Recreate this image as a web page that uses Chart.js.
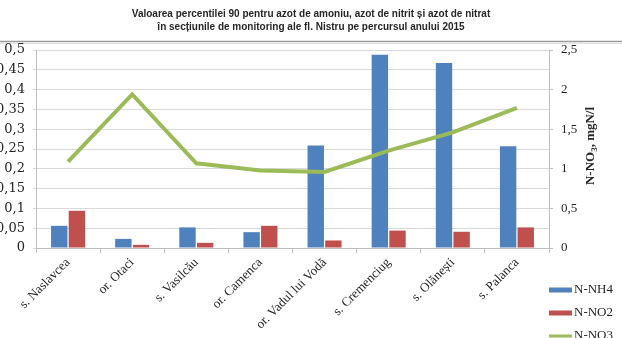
<!DOCTYPE html>
<html>
<head>
<meta charset="utf-8">
<script src="https://cdn.jsdelivr.net/npm/chart.js@4"></script>
<style>
  html, body { margin: 0; padding: 0; background: #ffffff; }
  #wrap { position: relative; width: 622px; height: 338px; overflow: hidden; }
</style>
</head>
<body>
<div id="wrap"><canvas id="c" width="622" height="338"></canvas></div>
<script>
// ---- data ----
const titleLines = [
  "Valoarea percentilei 90 pentru azot de amoniu, azot de nitrit și azot de nitrat",
  "în secțiunile de monitoring ale fl. Nistru pe percursul anului 2015"
];
const categories = ["s. Naslavcea", "or. Otaci", "s. Vasilcău", "or. Camenca",
  "or. Vadul lui Vodă", "s. Cremenciug", "s. Olănești", "s. Palanca"];
const seriesNames = ["N-NH4", "N-NO2", "N-NO3"];
const nh4 = [0.056, 0.023, 0.052, 0.040, 0.259, 0.488, 0.467, 0.257];
const no2 = [0.094, 0.008, 0.013, 0.056, 0.019, 0.044, 0.041, 0.052];
const no3 = [1.09, 1.94, 1.07, 0.98, 0.96, 1.23, 1.46, 1.77];
const leftTickLabels = ["0", "0,05", "0,1", "0,15", "0,2", "0,25", "0,3", "0,35", "0,4", "0,45", "0,5"];
const rightTickLabels = ["0", "0,5", "1", "1,5", "2", "2,5"];
const rightAxisTitle = [["N-NO", false], ["3", true], [", mgN/l", false]];

const serif = '"Liberation Serif", "Times New Roman", serif';
const colors = { nh4: '#4f81bd', no2: '#c0504d', no3: '#9bbb59' };

const extras = {
  id: 'extras',
  beforeDraw(chart) {
    const ctx = chart.ctx;
    ctx.save();
    ctx.strokeStyle = '#9a9a9a';
    ctx.lineWidth = 1.5;
    ctx.beginPath(); ctx.moveTo(0, 41.5); ctx.lineTo(622, 41.5); ctx.stroke();
    ctx.strokeStyle = '#e4e4e4';
    ctx.lineWidth = 1;
    ctx.beginPath(); ctx.moveTo(0, 43.5); ctx.lineTo(622, 43.5); ctx.stroke();
    ctx.restore();
  },
  afterDraw(chart) {
    const ctx = chart.ctx;
    // right axis title, reading bottom to top
    ctx.save();
    ctx.translate(591, 146);
    ctx.rotate(-Math.PI / 2);
    ctx.fillStyle = '#262626';
    ctx.textBaseline = 'middle';
    ctx.textAlign = 'left';
    let total = 0;
    const widths = rightAxisTitle.map(([t, sub]) => {
      ctx.font = 'bold ' + (sub ? 9 : 13) + 'px ' + serif;
      const w = ctx.measureText(t).width; total += w; return w;
    });
    let x = -total / 2;
    rightAxisTitle.forEach(([t, sub], i) => {
      ctx.font = 'bold ' + (sub ? 9 : 13) + 'px ' + serif;
      ctx.fillText(t, x, sub ? 4 : 0);
      x += widths[i];
    });
    ctx.restore();
    // legend, in series order
    ctx.save();
    seriesNames.forEach((name, i) => {
      const ds = chart.data.datasets.find(d => d.label === name);
      const y = 290 + i * 23;
      ctx.fillStyle = ds.type === 'line' ? ds.borderColor : ds.backgroundColor;
      const h = ds.type === 'line' ? 3 : 5;
      ctx.fillRect(549, y - h / 2, 23, h);
      ctx.fillStyle = '#262626';
      ctx.font = '13px ' + serif;
      ctx.textBaseline = 'middle';
      ctx.textAlign = 'left';
      ctx.fillText(ds.label, 574, y);
    });
    ctx.restore();
  }
};

new Chart(document.getElementById('c'), {
  type: 'bar',
  data: {
    labels: categories,
    datasets: [
      { type: 'line', label: seriesNames[2], data: no3, yAxisID: 'y2', order: 0,
        borderColor: colors.no3, backgroundColor: colors.no3, borderWidth: 4,
        pointRadius: 0, tension: 0, fill: false },
      { label: seriesNames[0], data: nh4, yAxisID: 'y', order: 1,
        backgroundColor: colors.nh4, categoryPercentage: 0.55, barPercentage: 0.93 },
      { label: seriesNames[1], data: no2, yAxisID: 'y', order: 1,
        backgroundColor: colors.no2, categoryPercentage: 0.55, barPercentage: 0.93 }
    ]
  },
  options: {
    responsive: false,
    animation: false,
    devicePixelRatio: 1,
    layout: { padding: 0 },
    plugins: {
      legend: { display: false },
      tooltip: { enabled: false },
      title: {
        display: true,
        text: titleLines,
        color: '#262626',
        font: { family: '"Liberation Sans", Arial, sans-serif', size: 10, weight: 'bold', lineHeight: 1.3 },
        padding: { top: 8, bottom: 16 }
      }
    },
    scales: {
      x: {
        offset: true,
        grid: { display: true, drawOnChartArea: false, tickLength: 5, color: '#bfbfbf' },
        border: { color: '#bfbfbf' },
        ticks: { autoSkip: false, minRotation: 45, maxRotation: 45, padding: 2,
          color: '#262626', font: { family: serif, size: 13 } },
        afterFit(s) { s.height = 90; }
      },
      y: {
        position: 'left', min: 0, max: 0.5,
        grid: { color: '#d9d9d9', tickLength: 3 },
        border: { color: '#bfbfbf' },
        ticks: { stepSize: 0.05, autoSkip: false, padding: 8, color: '#262626',
          font: { family: '"DejaVu Serif", serif', size: 13 },
          callback: (v, i) => leftTickLabels[i] },
        afterFit(s) { s.width = 36; }
      },
      y2: {
        position: 'right', min: 0, max: 2.5,
        grid: { drawOnChartArea: false, tickLength: 4, color: '#bfbfbf' },
        border: { color: '#bfbfbf' },
        ticks: { stepSize: 0.5, autoSkip: false, padding: 8, color: '#262626',
          font: { family: serif, size: 13 },
          callback: (v, i) => rightTickLabels[i] },
        afterFit(s) { s.width = 73; }
      }
    }
  },
  plugins: [extras]
});
</script>
</body>
</html>
